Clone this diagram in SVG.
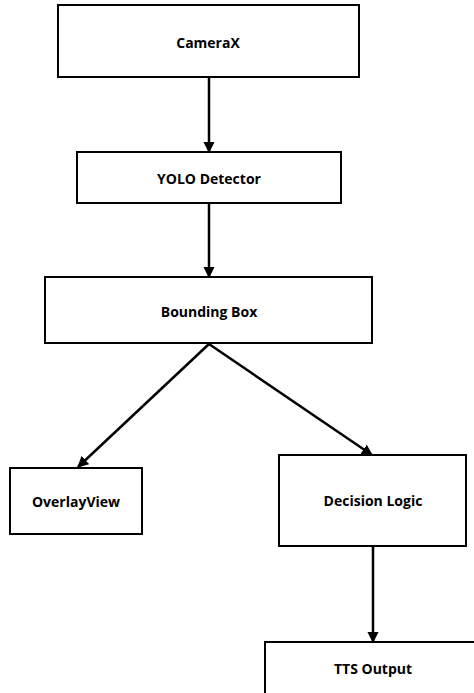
<svg xmlns="http://www.w3.org/2000/svg" width="474" height="693" viewBox="0 0 474 693">
<style>
.box{fill:#fff;stroke:#000;stroke-width:2}
.lbl{font-family:"Open Sans","Liberation Sans",sans-serif;font-weight:bold;font-size:14px;fill:#000;text-anchor:middle;dominant-baseline:central}
.edge{stroke:#000;stroke-width:2.5;fill:none;marker-end:url(#ah)}
</style>
<defs>
<marker id="ah" viewBox="0 0 10 10" refX="9" refY="5" markerWidth="4.5" markerHeight="4.5" orient="auto" markerUnits="strokeWidth">
<path d="M0,0 L10,5 L0,10 z" fill="#000"/>
</marker>
</defs>
<rect width="474" height="693" fill="#fff"/>
<g id="connectors">
<line class="edge" x1="209" y1="77" x2="209" y2="152"/>
<line class="edge" x1="209" y1="203" x2="209" y2="277"/>
<line class="edge" x1="209" y1="344" x2="78" y2="467"/>
<line class="edge" x1="209" y1="344" x2="372" y2="455"/>
<line class="edge" x1="373" y1="546" x2="373" y2="642"/>
</g>
<g id="camerax"><rect class="box" x="58" y="5" width="301" height="72"/><text class="lbl" x="208" y="42">CameraX</text></g>
<g id="yolo"><rect class="box" x="77" y="152" width="264" height="51"/><text class="lbl" x="209" y="178">YOLO Detector</text></g>
<g id="bbox"><rect class="box" x="45" y="277" width="327" height="66"/><text class="lbl" x="209" y="311">Bounding Box</text></g>
<g id="overlay"><rect class="box" x="10" y="468" width="132" height="66"/><text class="lbl" x="76" y="501">OverlayView</text></g>
<g id="decision"><rect class="box" x="279" y="455" width="187" height="91"/><text class="lbl" x="373" y="500">Decision Logic</text></g>
<g id="tts"><rect class="box" x="265" y="642" width="220" height="60"/><text class="lbl" x="373" y="668">TTS Output</text></g>
</svg>
